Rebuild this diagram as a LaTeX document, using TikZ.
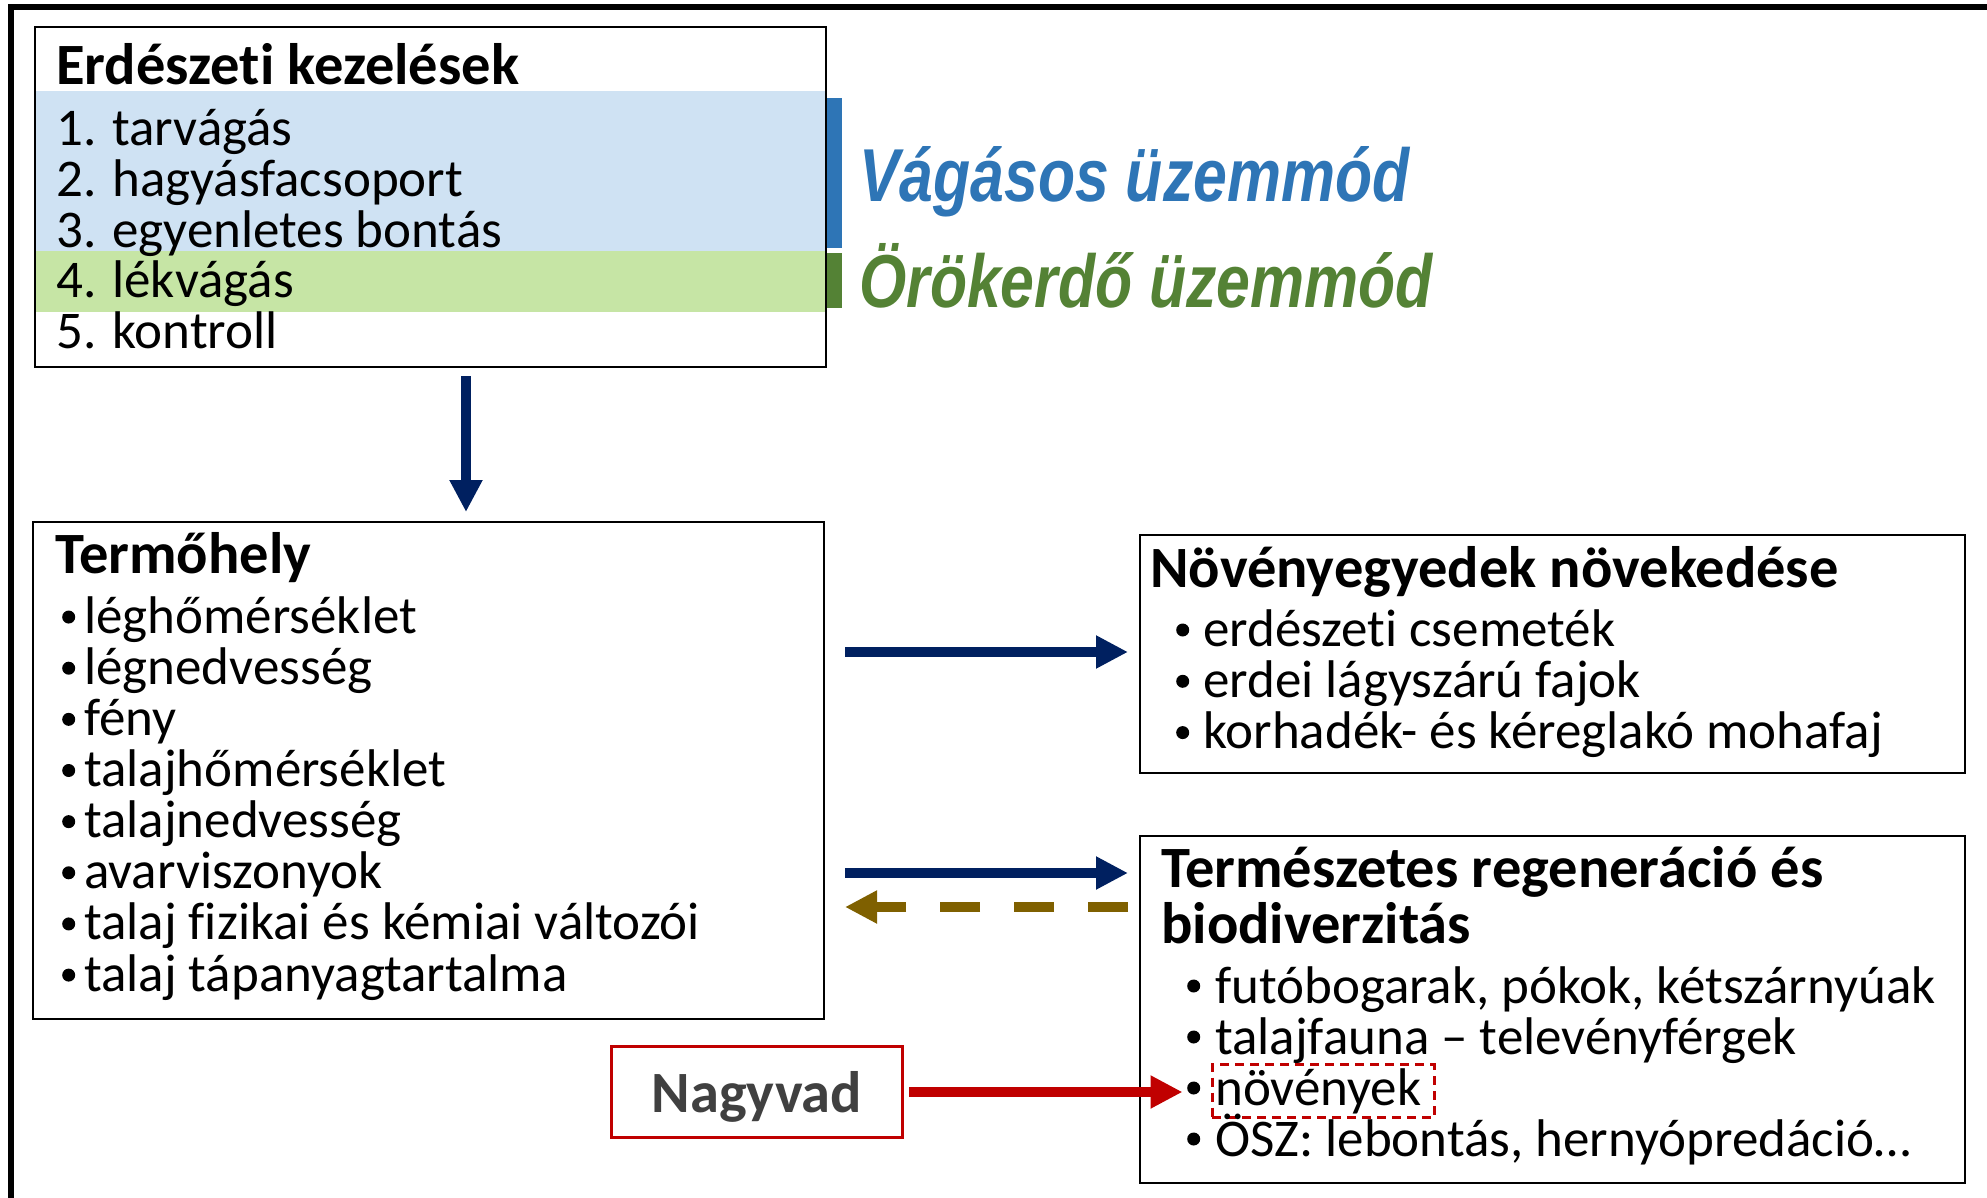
\documentclass[tikz,border=0pt]{standalone}
\usepackage{fontspec}
\setmainfont{Carlito}[Ligatures=NoCommon]
\newfontfamily\modefont[FakeStretch=0.81]{Liberation Sans}
\usetikzlibrary{arrows.meta}

\definecolor{bandblue}{HTML}{CFE2F3}
\definecolor{bandgreen}{HTML}{C6E5A5}
\definecolor{modeblue}{HTML}{2E75B6}
\definecolor{modegreen}{HTML}{548235}
\definecolor{arrownavy}{HTML}{002060}
\definecolor{arrowbrown}{HTML}{7F6000}
\definecolor{vadred}{HTML}{C00000}
\definecolor{vadgray}{HTML}{404040}

\newcommand{\bodysize}{\fontsize{53}{58}\selectfont}
\newcommand{\titlesize}{\fontsize{58.5}{64}\selectfont\bfseries}
\newcommand{\modesize}{\fontsize{75}{80}\selectfont}

\begin{document}
\begin{tikzpicture}[x=1pt,y=-1pt,
    box/.style={draw, line width=2pt, anchor=north west, inner sep=0pt, outer sep=0pt},
    dot/.style={circle, fill, inner sep=0pt, minimum size=13pt},
    flow/.style={line width=10pt, -{Triangle[length=32pt,width=31pt]}}]

  \useasboundingbox (0,0) rectangle (1987,1198);

  % outer frame
  \draw[line width=6pt] (11,1230) -- (11,7) -- (2020,7);

  % colour bands of the management types
  \fill[bandblue]  (35,91)  rectangle (826,251);
  \fill[bandgreen] (35,251) rectangle (826,312);
  \fill[modeblue]  (827,98)  rectangle (842,248);
  \fill[modegreen] (827,253) rectangle (842,308);

  % boxes
  \node[box, minimum width=791pt, minimum height=340pt] (kezeles)   at (35,27)   {};
  \node[box, minimum width=791pt, minimum height=497pt] (termohely) at (33,522)  {};
  \node[box, minimum width=825pt, minimum height=238pt] (novekedes) at (1140,535) {};
  \node[box, minimum width=825pt, minimum height=347pt] (regen)     at (1140,836) {};
  \node[draw=vadred, line width=3pt, minimum width=291pt, minimum height=91pt,
        inner sep=0pt, text depth=0pt, text=vadgray, font=\titlesize]
        (nagyvad) at (757,1092) {Nagyvad};
  \node[draw=vadred, line width=3pt, dash pattern=on 9pt off 6pt,
        minimum width=222pt, minimum height=53pt, inner sep=0pt]
        (novbox) at (1323,1091) {};

  \begin{scope}[every node/.style={anchor=base west, inner sep=0pt, font=\bodysize}]

    % Erdeszeti kezelesek
    \node[font=\titlesize] (kcim) at (56,85) {Erdészeti kezelések};
    \foreach \txt [count=\i] in {1. tarvágás, 2. hagyásfacsoport,
        3. egyenletes bontás, 4. lékvágás, 5. kontroll}
      \node (k\i) at (56,{95.4+50.6*\i}) {\txt};

    % Termohely
    \node[font=\titlesize] (tcim) at (55,573) {Termőhely};
    \foreach \txt [count=\i] in {léghőmérséklet, légnedvesség, fény,
        talajhőmérséklet, talajnedvesség, avarviszonyok,
        talaj fizikai és kémiai változói, talaj tápanyagtartalma}
    {
      \node[dot] (tb\i) at (62,{565.9+51.15*\i}) {};
      \node (t\i)  at (84,{581.9+51.15*\i}) {\txt};
    }

    % Novenyegyedek novekedese
    \node[font=\titlesize] (ncim) at (1150,587) {Növényegyedek növekedése};
    \foreach \txt [count=\i] in {erdészeti csemeték, erdei lágyszárú fajok,
        korhadék- és kéreglakó mohafaj}
    {
      \node[dot] (nb\i) at (1176,{578.7+51.3*\i}) {};
      \node (n\i)  at (1203,{594.7+51.3*\i}) {\txt};
    }

    % Termeszetes regeneracio
    \node[font=\titlesize] (rcim1) at (1161,887) {Természetes regeneráció és};
    \node[font=\titlesize] (rcim2) at (1161,943) {biodiverzitás};
    \foreach \txt [count=\i] in {{futóbogarak, pókok, kétszárnyúak},
        talajfauna – televényférgek, növények,
        {ÖSZ: lebontás, hernyópredáció…}}
    {
      \node[dot] (rb\i) at (1187,{935+51*\i}) {};
      \node (r\i)  at (1215,{952+51*\i}) {\txt};
    }
  \end{scope}

  % management types
  \begin{scope}[every node/.style={anchor=base west, inner sep=0pt,
      font=\modefont\modesize\bfseries\itshape}]
    \node[text=modeblue]  (vagasos)  at (859,202) {Vágásos üzemmód};
    \node[text=modegreen] (orokerdo) at (859,308) {Örökerdő üzemmód};
  \end{scope}

  % connectors
  \coordinate (xle) at (466,0);
  \coordinate (ynov) at (0,652);
  \coordinate (yreg) at (0,873);
  \coordinate (yvissza) at (0,907);

  \draw[flow, arrownavy, shorten <=9pt, shorten >=10pt]
    (kezeles.south -| xle) -- (termohely.north -| xle);
  \draw[flow, arrownavy, shorten <=21pt, shorten >=12pt]
    (termohely.east |- ynov) -- (novekedes.west |- ynov);
  \draw[flow, arrownavy, shorten <=21pt, shorten >=12pt]
    (termohely.east |- yreg) -- (regen.west |- yreg);
  \draw[flow, arrowbrown, dash pattern=on 40pt off 34pt, shorten <=12pt, shorten >=21pt]
    (regen.west |- yvissza) -- (termohely.east |- yvissza);
  \draw[flow, vadred, shorten <=5pt, shorten >=28pt]
    (nagyvad.east) -- (nagyvad.east -| novbox.west);

\end{tikzpicture}
\end{document}
